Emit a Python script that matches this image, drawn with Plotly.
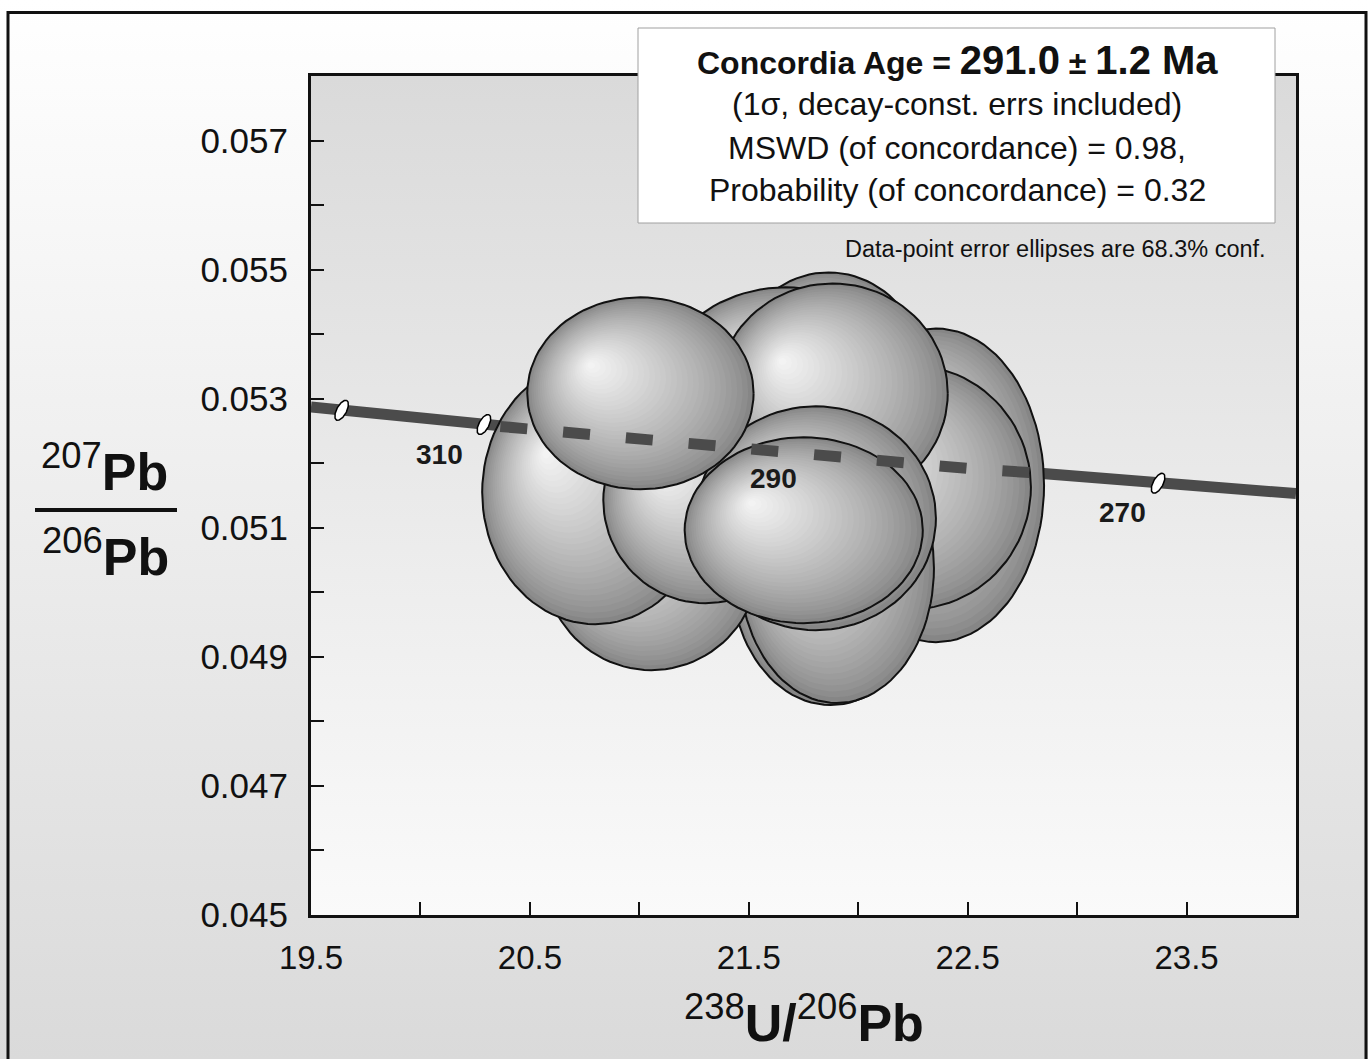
import numpy as np
import plotly.graph_objects as go

W, H = 1368, 1059
PX0, PX1, PY0, PY1 = 311, 1296, 76, 915   # plot-area box in page pixels
FONT = "Liberation Sans, Arial, sans-serif"

X_RANGE = [19.5, 24.0]
Y_RANGE = [0.045, 0.058]

# ---- data ----
# concordia curve (238U/206Pb vs 207Pb/206Pb)
conc_x = [19.50, 19.64, 20.29, 20.99, 21.73, 22.53, 23.37, 24.00]
conc_y = [0.05287, 0.05282, 0.05260, 0.05237, 0.05214, 0.05191, 0.05169, 0.05153]
# age marks on the concordia (Ma)
mark_age = [320, 310, 300, 290, 280, 270]
mark_x = [19.64, 20.29, 20.99, 21.73, 22.53, 23.37]
mark_y = [0.05282, 0.05260, 0.05237, 0.05214, 0.05191, 0.05169]
labelled_ages = [310, 290, 270]
# dashed part of the concordia drawn over the data ellipses
dash_x = [20.365, 20.99, 21.73, 22.53, 22.81]
dash_y = [0.05257, 0.05237, 0.05214, 0.05191, 0.05185]

# data-point error ellipses (back to front): centre, semi-axes
ell_x = [21.865, 21.668, 22.355, 22.240, 21.874, 21.902, 21.055, 20.799, 21.302, 21.883, 21.806, 21.005, 21.751]
ell_y = [0.053207, 0.052975, 0.051658, 0.051627, 0.050342, 0.050373, 0.050497, 0.051550, 0.051426, 0.053082, 0.051148, 0.053083, 0.050962]
ell_rx = [0.4575, 0.595, 0.494, 0.549, 0.4575, 0.444, 0.494, 0.517, 0.4666, 0.526, 0.549, 0.517, 0.544]
ell_ry = [0.00175, 0.00175, 0.002431, 0.001889, 0.00209, 0.00209, 0.001703, 0.002044, 0.001595, 0.001703, 0.001734, 0.001487, 0.00144]

x_tick_vals = [19.5, 20.5, 21.5, 22.5, 23.5]
x_tick_text = ["19.5", "20.5", "21.5", "22.5", "23.5"]
y_tick_vals = [0.045, 0.047, 0.049, 0.051, 0.053, 0.055, 0.057]
y_tick_text = ["0.045", "0.047", "0.049", "0.051", "0.053", "0.055", "0.057"]

info_lines = [
    "<b>Concordia Age = <span style='font-size:40px'>291.0</span> ± <span style='font-size:40px'>1.2 Ma</span></b>",
    "(1σ, decay-const. errs included)",
    "MSWD (of concordance) = 0.98,",
    "Probability (of concordance) = 0.32",
]
note_text = "Data-point error ellipses are 68.3% conf."

# ---- helpers ----
XPX = (PX1 - PX0) / (X_RANGE[1] - X_RANGE[0])   # pixels per x unit
YPX = (PY1 - PY0) / (Y_RANGE[1] - Y_RANGE[0])   # pixels per y unit
T = np.linspace(0, 2 * np.pi, 97)

fig = go.Figure()

# page background (full-page helper axes)
fig.add_trace(go.Scatter(
    x=[0, 1, 1, 0, 0], y=[0, 0, 1, 1, 0], mode="lines", fill="toself",
    line=dict(width=0), fillgradient=dict(type="vertical", colorscale=[[0, "#dadada"], [1, "#ffffff"]]),
    hoverinfo="skip", showlegend=False, xaxis="x", yaxis="y"))

# plot-area background
fig.add_trace(go.Scatter(
    x=[X_RANGE[0], X_RANGE[1], X_RANGE[1], X_RANGE[0], X_RANGE[0]],
    y=[Y_RANGE[0], Y_RANGE[0], Y_RANGE[1], Y_RANGE[1], Y_RANGE[0]],
    mode="lines", fill="toself", line=dict(width=0),
    fillgradient=dict(type="vertical", colorscale=[[0, "#fafafa"], [1, "#dadada"]]),
    hoverinfo="skip", showlegend=False, xaxis="x2", yaxis="y2"))

LINE_COL = "#4b4b4b"
# concordia (solid)
fig.add_trace(go.Scatter(x=conc_x, y=conc_y, mode="lines", line=dict(color=LINE_COL, width=11),
                         hoverinfo="skip", showlegend=False, xaxis="x2", yaxis="y2"))

# age marks: small tilted white ellipses
th = np.deg2rad(62)
a_px, b_px = 11, 5
mx_off = (a_px * np.cos(T) * np.cos(th) - b_px * np.sin(T) * np.sin(th)) / XPX
my_off = (a_px * np.cos(T) * np.sin(th) + b_px * np.sin(T) * np.cos(th)) / YPX
for x0, y0 in zip(mark_x, mark_y):
    fig.add_trace(go.Scatter(x=x0 + mx_off, y=y0 + my_off, mode="lines", fill="toself",
                             fillcolor="white", line=dict(color="black", width=1.5),
                             hoverinfo="skip", showlegend=False, xaxis="x2", yaxis="y2"))

# shaded error ellipses
N = 30
HX, HY = -0.45, 0.30
edge = np.array([0x86, 0x86, 0x86], float)
hi = np.array([0xf6, 0xf6, 0xf6], float)
for cx, cy, rx, ry in zip(ell_x, ell_y, ell_rx, ell_ry):
    for k in range(N):
        s = 1 - k / N
        f = (1 - s) ** 0.8
        c = edge + (hi - edge) * f
        ccx = cx + (1 - s) * HX * rx
        ccy = cy + (1 - s) * HY * ry
        fig.add_trace(go.Scatter(
            x=ccx + s * rx * np.cos(T), y=ccy + s * ry * np.sin(T), mode="lines", fill="toself",
            fillcolor="rgb(%d,%d,%d)" % tuple(c.round()), line=dict(width=0),
            hoverinfo="skip", showlegend=False, xaxis="x2", yaxis="y2"))
    fig.add_trace(go.Scatter(
        x=cx + rx * np.cos(T), y=cy + ry * np.sin(T), mode="lines",
        line=dict(color="#111111", width=2), hoverinfo="skip", showlegend=False,
        xaxis="x2", yaxis="y2"))

# dashed concordia over the ellipses
fig.add_trace(go.Scatter(x=dash_x, y=dash_y, mode="lines",
                         line=dict(color=LINE_COL, width=11, dash="27px,36px"),
                         hoverinfo="skip", showlegend=False, xaxis="x2", yaxis="y2"))

annotations = []
label_shift = {310: (-44, -30), 290: (-26, -24), 270: (-36, -29)}
for age in labelled_ages:
    i = mark_age.index(age)
    dx, dy = label_shift[age]
    annotations.append(dict(x=mark_x[i], y=mark_y[i], xref="x2", yref="y2", text="<b>%d</b>" % age,
                            showarrow=False, xshift=dx, yshift=dy, xanchor="center", yanchor="middle",
                            font=dict(family=FONT, size=28, color="#1a1a1a")))

def px(xp):
    return xp / W

def py(yp):
    return 1 - yp / H

line_y = [60, 104, 148, 190]
for i, (txt, yy) in enumerate(zip(info_lines, line_y)):
    annotations.append(dict(x=px(957), y=py(yy), xref="paper", yref="paper", text=txt, showarrow=False,
                            xanchor="center", yanchor="middle",
                            font=dict(family=FONT, size=32, color="#111")))
annotations.append(dict(x=px(1268), y=py(249), xref="paper", yref="paper", text=note_text, showarrow=False,
                        xanchor="right", yanchor="middle", font=dict(family=FONT, size=23.5, color="#111")))

# axis titles
annotations.append(dict(x=px(104), y=py(468), xref="paper", yref="paper",
                        text="<sup>207</sup><b>Pb</b>", showarrow=False, xanchor="center", yanchor="middle",
                        font=dict(family=FONT, size=52, color="#111")))
annotations.append(dict(x=px(105), y=py(553), xref="paper", yref="paper",
                        text="<sup>206</sup><b>Pb</b>", showarrow=False, xanchor="center", yanchor="middle",
                        font=dict(family=FONT, size=52, color="#111")))
annotations.append(dict(x=px(804), y=py(1019), xref="paper", yref="paper",
                        text="<sup>238</sup><b>U/</b><sup>206</sup><b>Pb</b>", showarrow=False,
                        xanchor="center", yanchor="middle", font=dict(family=FONT, size=52, color="#111")))

shapes = [
    # info box
    dict(type="rect", xref="paper", yref="paper", x0=px(638), x1=px(1275), y0=py(223), y1=py(28),
         fillcolor="white", line=dict(color="#a0a0a0", width=1), layer="above"),
    # fraction bar of the y title
    dict(type="line", xref="paper", yref="paper", x0=px(35), x1=px(177), y0=py(510), y1=py(510),
         line=dict(color="#111", width=4)),
    # outer frame
    dict(type="rect", xref="paper", yref="paper", x0=px(8), x1=px(1366), y0=-0.05, y1=py(12.5),
         line=dict(color="#111", width=3), fillcolor="rgba(0,0,0,0)"),
]

hidden_axis = dict(domain=[0, 1], range=[0, 1], showticklabels=False, ticks="", showline=False,
                   showgrid=False, zeroline=False, automargin=False, fixedrange=True)
tick_style = dict(ticks="inside", ticklen=13, tickwidth=2, tickcolor="#111")

fig.update_layout(
    width=W, height=H, autosize=False,
    margin=dict(l=0, r=0, t=0, b=0, pad=0, autoexpand=False),
    paper_bgcolor="white", plot_bgcolor="rgba(0,0,0,0)",
    showlegend=False,
    xaxis=dict(hidden_axis, anchor="y"),
    yaxis=dict(hidden_axis, anchor="x"),
    xaxis2=dict(domain=[PX0 / W, PX1 / W], anchor="y2", range=X_RANGE, tickmode="array",
                tickvals=x_tick_vals, ticktext=x_tick_text, **tick_style,
                minor=dict(tick0=19.5, dtick=0.5, **tick_style),
                showline=True, mirror=True, linecolor="#111", linewidth=3,
                showgrid=False, zeroline=False, ticklabelstandoff=11, automargin=False,
                tickfont=dict(family=FONT, size=33, color="#111")),
    yaxis2=dict(domain=[1 - PY1 / H, 1 - PY0 / H], anchor="x2", range=Y_RANGE, tickmode="array",
                tickvals=y_tick_vals, ticktext=y_tick_text, **tick_style,
                minor=dict(tick0=0.045, dtick=0.001, **tick_style),
                showline=True, mirror=True, linecolor="#111", linewidth=3,
                showgrid=False, zeroline=False, ticklabelstandoff=13, automargin=False,
                tickfont=dict(family=FONT, size=35, color="#111")),
    annotations=annotations,
    shapes=shapes,
)

fig.write_html("out.html")
